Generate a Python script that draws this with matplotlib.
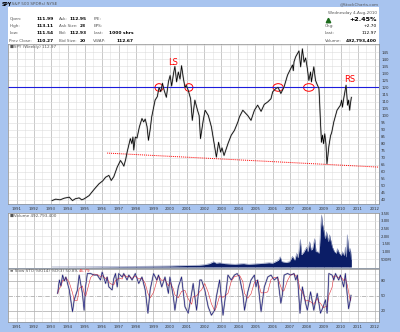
import matplotlib
matplotlib.use("Agg")
import matplotlib.pyplot as plt
from matplotlib.patches import Ellipse, Rectangle

# SPY weekly close (decimal year, price)
price_years = [1993.08, 1993.30, 1993.55, 1993.80, 1994.09, 1994.28, 1994.45, 1994.67, 1994.82, 1994.96,
               1995.25, 1995.55, 1995.83, 1996.05, 1996.22, 1996.41, 1996.55, 1996.70, 1996.90, 1997.09,
               1997.20, 1997.29, 1997.40, 1997.48, 1997.67, 1997.76, 1997.82, 1997.87, 1997.96, 1998.06,
               1998.20, 1998.35, 1998.45, 1998.54, 1998.65, 1998.73, 1998.83, 1998.92, 1999.12, 1999.25,
               1999.35, 1999.45, 1999.55, 1999.65, 1999.78, 1999.90, 2000.00, 2000.09, 2000.20, 2000.28,
               2000.38, 2000.48, 2000.58, 2000.67, 2000.77, 2000.87, 2000.95, 2001.06, 2001.20, 2001.30,
               2001.45, 2001.60, 2001.70, 2001.78, 2001.94, 2002.05, 2002.24, 2002.42, 2002.57, 2002.71,
               2002.84, 2002.96, 2003.04, 2003.16, 2003.39, 2003.58, 2003.77, 2003.97, 2004.06, 2004.26,
               2004.40, 2004.55, 2004.74, 2004.94, 2005.13, 2005.33, 2005.52, 2005.72, 2005.91, 2006.01,
               2006.20, 2006.33, 2006.49, 2006.68, 2006.88, 2007.07, 2007.17, 2007.22, 2007.26, 2007.36,
               2007.46, 2007.55, 2007.65, 2007.75, 2007.85, 2007.94, 2008.04, 2008.13, 2008.23, 2008.28,
               2008.42, 2008.52, 2008.62, 2008.72, 2008.76, 2008.81, 2008.87, 2008.93, 2008.99, 2009.06,
               2009.13, 2009.19, 2009.25, 2009.30, 2009.40, 2009.47, 2009.59, 2009.78, 2009.98, 2010.05,
               2010.10, 2010.17, 2010.31, 2010.40, 2010.46, 2010.52, 2010.56, 2010.62]
price_values = [39.5, 40.5, 40.0, 41.2, 41.9, 39.5, 40.8, 41.4, 40.0, 40.7,
                43.0, 47.5, 51.4, 53.5, 56.1, 57.4, 53.8, 56.5, 63.3, 68.0,
                66.0, 64.0, 69.0, 74.0, 83.6, 80.0, 84.7, 75.5, 84.7, 84.0,
                92.0, 97.9, 95.5, 97.5, 92.0, 82.4, 90.0, 99.0, 111.0, 113.5,
                120.0, 117.0, 123.0, 118.0, 113.0, 124.0, 128.5, 121.0, 130.0, 135.0,
                124.0, 131.0, 126.0, 135.5, 127.0, 120.0, 121.5, 118.0, 112.0, 96.6,
                111.0, 104.0, 100.0, 83.6, 96.6, 103.8, 100.0, 91.9, 81.0, 70.4,
                81.0, 74.0, 77.0, 71.6, 80.0, 86.0, 89.5, 95.4, 99.0, 103.8,
                102.0, 100.0, 96.6, 103.8, 107.4, 103.0, 108.0, 109.7, 112.0, 116.9,
                119.3, 120.0, 115.7, 120.5, 128.8, 133.6, 136.0, 132.0, 138.3, 141.9,
                144.0, 146.0, 134.7, 147.5, 138.0, 141.0, 133.6, 125.0, 131.0, 124.0,
                134.7, 125.0, 122.0, 119.3, 110.0, 95.4, 81.0, 86.0, 80.0, 87.0,
                80.0, 65.7, 72.0, 78.0, 85.6, 88.0, 95.4, 103.8, 107.4, 111.0,
                106.0, 112.0, 121.6, 107.4, 111.0, 103.8, 108.0, 112.97]

# weekly volume, billions of shares
vol_years = [1993.08, 1995.0, 1997.0, 1998.5, 2000.0, 2001.0, 2001.7, 2002.0, 2002.3, 2002.55,
             2002.7, 2002.9, 2003.2, 2003.5, 2003.8, 2004.0, 2004.3, 2004.6, 2004.9, 2005.2,
             2005.5, 2005.8, 2006.0, 2006.35, 2006.45, 2006.55, 2006.8, 2007.0, 2007.17, 2007.3,
             2007.42, 2007.5, 2007.63, 2007.7, 2007.83, 2008.0, 2008.08, 2008.17, 2008.27, 2008.35,
             2008.47, 2008.55, 2008.64, 2008.72, 2008.76, 2008.81, 2008.87, 2008.93, 2008.99, 2009.05,
             2009.10, 2009.16, 2009.22, 2009.28, 2009.34, 2009.40, 2009.51, 2009.63, 2009.74, 2009.80,
             2009.92, 2010.03, 2010.09, 2010.21, 2010.27, 2010.33, 2010.38, 2010.44, 2010.50, 2010.56,
             2010.62]
vol_values = [0.005, 0.01, 0.03, 0.05, 0.07, 0.10, 0.12, 0.15, 0.22, 0.35,
              0.25, 0.28, 0.22, 0.20, 0.18, 0.20, 0.22, 0.18, 0.20, 0.22,
              0.25, 0.28, 0.25, 0.45, 0.67, 0.35, 0.30, 0.35, 0.70, 0.45,
              0.90, 0.60, 1.80, 0.80, 0.97, 1.30, 1.00, 1.65, 1.10, 1.20,
              1.85, 1.00, 1.00, 0.90, 1.40, 2.40, 3.40, 2.80, 2.50, 2.10,
              1.85, 2.30, 2.00, 1.65, 2.10, 1.80, 1.30, 1.00, 0.90, 1.20,
              0.90, 0.75, 1.00, 0.75, 1.30, 0.65, 2.10, 1.40, 1.00, 1.20,
              0.49]

# Slow stochastic %K(14) / %D(3)
sto_years = [1993.41, 1993.51, 1993.60, 1993.70, 1993.80, 1993.89, 1994.09, 1994.28, 1994.38, 1994.57,
             1994.67, 1994.86, 1994.96, 1995.05, 1995.15, 1995.34, 1995.54, 1995.73, 1995.92, 1996.02,
             1996.22, 1996.31, 1996.41, 1996.60, 1996.70, 1996.80, 1996.90, 1996.99, 1997.19, 1997.28,
             1997.48, 1997.58, 1997.77, 1997.96, 1998.16, 1998.35, 1998.54, 1998.70, 1998.83, 1999.03,
             1999.22, 1999.32, 1999.51, 1999.70, 1999.90, 1999.99, 2000.19, 2000.28, 2000.48, 2000.67,
             2000.87, 2001.06, 2001.26, 2001.35, 2001.55, 2001.74, 2001.84, 2002.03, 2002.23, 2002.42,
             2002.61, 2002.71, 2002.90, 2003.10, 2003.29, 2003.39, 2003.58, 2003.77, 2003.93, 2004.06,
             2004.26, 2004.36, 2004.55, 2004.74, 2004.94, 2005.03, 2005.13, 2005.33, 2005.52, 2005.72,
             2005.91, 2006.10, 2006.30, 2006.49, 2006.59, 2006.68, 2006.88, 2007.07, 2007.26, 2007.36,
             2007.46, 2007.61, 2007.75, 2007.94, 2008.04, 2008.23, 2008.42, 2008.62, 2008.72, 2008.81,
             2008.97, 2009.10, 2009.20, 2009.30, 2009.49, 2009.59, 2009.69, 2009.88, 2009.98, 2010.17,
             2010.27, 2010.37, 2010.46, 2010.56, 2010.60]
sto_k = [55, 82, 70, 92, 80, 88, 62, 18, 42, 62,
         92, 55, 21, 70, 95, 95, 92, 92, 82, 98,
         75, 88, 68, 62, 85, 95, 68, 95, 88, 95,
         82, 92, 82, 95, 75, 88, 62, 15, 62, 95,
         82, 92, 68, 88, 55, 88, 48, 21, 68, 88,
         28, 15, 55, 75, 21, 82, 82, 62, 28, 11,
         21, 48, 82, 11, 62, 92, 82, 92, 95, 88,
         55, 21, 58, 82, 92, 68, 82, 18, 68, 88,
         92, 82, 88, 35, 55, 92, 95, 92, 95, 82,
         92, 15, 68, 35, 21, 58, 21, 55, 35, 15,
         28, 42, 15, 95, 92, 82, 95, 82, 92, 68,
         95, 55, 24, 42, 50.89]
sto_d = [55, 65, 69, 81, 81, 87, 77, 56, 41, 41,
         65, 70, 56, 49, 62, 87, 94, 93, 89, 91,
         85, 87, 77, 73, 72, 81, 83, 86, 84, 93,
         88, 90, 85, 90, 84, 86, 75, 55, 46, 57,
         80, 90, 81, 83, 70, 77, 64, 52, 46, 59,
         61, 44, 33, 48, 50, 59, 62, 75, 57, 34,
         20, 27, 50, 47, 52, 55, 79, 89, 90, 92,
         79, 55, 45, 54, 77, 81, 81, 56, 56, 58,
         83, 87, 87, 68, 59, 61, 81, 93, 94, 90,
         90, 63, 58, 39, 41, 38, 33, 45, 37, 35,
         26, 28, 28, 51, 67, 90, 90, 86, 90, 81,
         85, 73, 58, 40, 46.79]

year_ticks = list(range(1991, 2013))
price_ticks = list(range(40, 151, 5))
vol_ticks = [0.5, 1.0, 1.5, 2.0, 2.5, 3.0, 3.5]
vol_labels = ['500M', '1.0B', '1.5B', '2.0B', '2.5B', '3.0B', '3.5B']
sto_ticks = [20, 50, 80]

# annotations drawn on the chart
neckline = 120
trend_x = [1996.31, 2012.24]
trend_y = [73.3, 63.3]
circle_x = [1999.35, 2001.10, 2006.33, 2008.13]
circle_w = [0.47, 0.47, 0.6, 0.62]
pattern_text = ['LS', 'H', 'RS']
pattern_x = [2000.19, 2007.75, 2010.52]
pattern_y = [137.6, 153.0, 125.7]

W, H = 400, 332
BG = '#a8c4ef'
XLIM = (1990.67, 2012.24)


def box(x0, y0, x1, y1):
    return [x0 / W, 1 - y1 / H, (x1 - x0) / W, (y1 - y0) / H]


def ftext(x, y, s, **kw):
    kw.setdefault('va', 'center')
    fig.text(x / W, 1 - y / H, s, **kw)


fig = plt.figure(figsize=(4, 3.32), dpi=100, facecolor=BG)
fig.patches.append(Rectangle((8 / W, 1 - 43.5 / H), 371 / W, 36.5 / H,
                             transform=fig.transFigure, fc='white', ec='none', zorder=0))

ax_p = fig.add_axes(box(8, 43.5, 379, 203.5))
ax_v = fig.add_axes(box(8, 213, 379, 268))
ax_s = fig.add_axes(box(8, 269, 379, 322))

half_years = [y + 0.5 for y in range(1990, 2012)]
for ax in (ax_p, ax_v, ax_s):
    ax.set_xlim(*XLIM)
    ax.set_xticks(year_ticks)
    ax.set_xticks(half_years, minor=True)
    ax.grid(which='major', axis='x', color='#b4b4b4', lw=0.5)
    ax.grid(which='minor', axis='x', color='#e2e2e2', lw=0.4)
    ax.grid(which='major', axis='y', color='#dcdcdc', lw=0.4)
    ax.yaxis.tick_right()
    ax.tick_params(which='both', length=0, labelsize=2.8, colors='#333333', pad=1.5)
    ax.set_axisbelow(True)
    for sp in ax.spines.values():
        sp.set_color('#8c8c8c')
        sp.set_linewidth(0.5)

# price panel
ax_p.set_ylim(37.4, 151.3)
ax_p.set_yticks(price_ticks)
ax_p.set_yticklabels([str(v) if v < 150 else '' for v in price_ticks])
ax_p.set_xticklabels([str(y) for y in year_ticks])
ax_p.tick_params(axis='x', pad=2.6)
ax_p.axhline(neckline, color='#1c1cdc', lw=0.8)
ax_p.plot(trend_x, trend_y, color='red', lw=0.7, ls=(0, (1, 1)))
ax_p.plot(price_years, price_values, color='#a0a0a0', lw=1.3, alpha=0.5)
ax_p.plot(price_years, price_values, color='black', lw=0.55)
for cx, cw in zip(circle_x, circle_w):
    ax_p.add_patch(Ellipse((cx, neckline), cw, 5.4, fill=False, ec='red', lw=0.7))
for s, x, y in zip(pattern_text, pattern_x, pattern_y):
    ax_p.text(x, y, s, color='red', fontsize=6, ha='center', va='center', clip_on=False)
ax_p.text(0.005, 0.978, '\u25a0SPY (Weekly) 112.97', transform=ax_p.transAxes,
          fontsize=3, color='#555555', va='center')

# volume panel
ax_v.set_ylim(-0.065, 3.52)
ax_v.set_yticks(vol_ticks)
ax_v.set_yticklabels(vol_labels)
ax_v.tick_params(axis='x', labelbottom=False)
ax_v.fill_between(vol_years, 0, vol_values, color='#0b1d66', lw=0)
ax_v.plot(vol_years, vol_values, color='#8d96bb', lw=0.4)
ax_v.text(0.005, 0.95, '\u25a0Volume 492,793,400', transform=ax_v.transAxes,
          fontsize=3, color='#555555', va='center')

# stochastic panel
ax_s.set_ylim(-2.8, 104.2)
ax_s.set_yticks(sto_ticks)
ax_s.grid(False, axis='y')
for lvl in [5, 35, 65, 95]:
    ax_s.axhline(lvl, color='#e4e4e4', lw=0.4, zorder=0)
for lvl in [20, 80]:
    ax_s.axhline(lvl, color='#a8a8a8', lw=0.5, zorder=0)
ax_s.axhline(50, color='#a0a0a0', lw=0.5, ls='-.', zorder=0)
ax_s.set_xticklabels([str(y) for y in year_ticks])
ax_s.tick_params(axis='x', pad=2.3)
ax_s.plot(sto_years, sto_k, color='#c8c8c8', lw=1.3)
ax_s.plot(sto_years, sto_d, color='#e0303a', lw=0.4)
ax_s.plot(sto_years, sto_k, color='#1a1a80', lw=0.5)
ax_s.text(0.005, 0.96, '\u2261 Slow STO %K(14) %D(3) 50.89,', transform=ax_s.transAxes,
          fontsize=3, color='#555555', va='center')
ax_s.text(0.19, 0.96, '46.79', transform=ax_s.transAxes, fontsize=3, color='#e03030', va='center')

# header
ftext(1.5, 4.3, 'SPY', fontsize=3.3, fontweight='bold', color='black')
ftext(10.5, 4.3, '(S&P 500 SPDRs) NYSE', fontsize=3, color='#555555')
ftext(379, 4.5, '@StockCharts.com', fontsize=3, color='#555555', ha='right')

info_rows = [19, 25.7, 33.3, 40.7]
col1 = ['Open:', 'High:', 'Low:', 'Prev Close:']
val1 = ['111.99', '113.11', '111.54', '110.27']
col2 = ['Ask:', 'Ask Size:', 'Bid:', 'Bid Size:']
val2 = ['112.95', '23', '112.93', '20']
col3 = ['P/E:', 'EPS:', 'Last:', 'VWAP:']
val3 = ['', '', '1000 shrs', '112.67']
for i, yy in enumerate(info_rows):
    ftext(9.3, yy, col1[i], fontsize=3, color='#555555')
    ftext(53.3, yy, val1[i], fontsize=3.2, fontweight='bold', ha='right')
    ftext(59, yy, col2[i], fontsize=3, color='#555555')
    ftext(86, yy, val2[i], fontsize=3.2, fontweight='bold', ha='right')
    ftext(93.3, yy, col3[i], fontsize=3, color='#555555')
    ftext(133.3, yy, val3[i], fontsize=3.2, fontweight='bold', ha='right')

ftext(377, 12.7, 'Wednesday 4-Aug-2010', fontsize=3, color='#555555', ha='right')
fig.lines.append(plt.Line2D([328 / W], [1 - 19.5 / H], marker='^', ms=3.2, color='#1d6b1d',
                            transform=fig.transFigure))
ftext(377, 19.5, '+2.45%', fontsize=4.6, fontweight='bold', ha='right')
ftext(325, 26, 'Chg:', fontsize=3, color='#555555')
ftext(377, 26, '+2.70', fontsize=3.2, ha='right')
ftext(325, 33.2, 'Last:', fontsize=3, color='#555555')
ftext(377, 33.2, '112.97', fontsize=3.2, ha='right')
ftext(325, 40.6, 'Volume:', fontsize=3, color='#555555')
ftext(377, 40.6, '492,793,400', fontsize=3.2, fontweight='bold', ha='right')

fig.savefig('out.png', dpi=100, facecolor=BG)
